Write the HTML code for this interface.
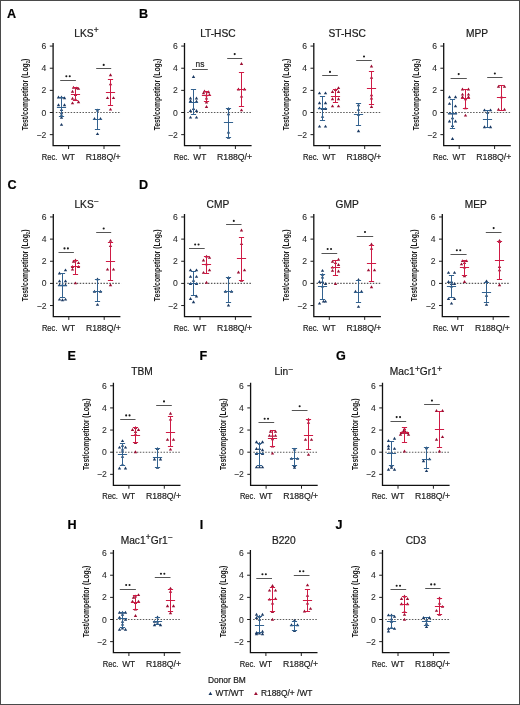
<!DOCTYPE html>
<html><head><meta charset="utf-8"><style>
html,body{margin:0;padding:0;background:#fff;}
body{width:520px;height:705px;overflow:hidden;}
svg{display:block;will-change:transform;}
#w{}
text{font-family:"Liberation Sans", sans-serif;fill:#1a1a1a;stroke:#1a1a1a;stroke-width:0.2px;}
.lt{font-size:12.6px;font-weight:bold;fill:#000;}
.ti{font-size:10.2px;}
.sup{font-size:8.4px;}
.yl{font-size:9.8px;font-weight:bold;stroke-width:0px;}
.sub{font-size:6px;}
.yt{font-size:8.6px;fill:#2a2a2a;stroke:#2a2a2a;stroke-width:0.08px;}
.xt{font-size:8.6px;fill:#222;stroke:#222;stroke-width:0.18px;}
.ns{font-size:8.4px;fill:#333;}
.lg{font-size:8.4px;fill:#222;}
.ax{fill:none;stroke:#111;stroke-width:1.3;}
.tk{fill:none;stroke:#1e1e1e;stroke-width:1;}
.zl{fill:none;stroke:#5a5a5a;stroke-width:1.1;stroke-dasharray:1.5 1.46;}
.eb{fill:none;stroke-width:1;}
.sb{fill:none;stroke:#555;stroke-width:1;}
</style></head><body>
<div id="w"><svg width="520" height="705" viewBox="0 0 520 705">
<g>
<rect x="0.5" y="0.5" width="519" height="704" fill="#fff" stroke="#4a4a4a" stroke-width="1"/>
<text x="7.1" y="17.8" class="lt">A</text>
<text x="86.5" y="36.5" class="ti" text-anchor="middle"><tspan>LKS</tspan><tspan class="sup" dx="0.3" dy="-3.3">+</tspan><tspan dy="3.3">​</tspan></text>
<text transform="translate(28.2 94.5) rotate(-90) scale(0.695 1)" class="yl" text-anchor="middle">Test/competitor (Log<tspan class="sub" dy="1.6">2</tspan><tspan dy="-1.6">)</tspan></text>
<path d="M53.1 43.08V145.71H120.2" class="ax"/>
<path d="M49.8 46.08H53.1M49.8 68.22H53.1M49.8 90.36H53.1M49.8 112.5H53.1M49.8 134.64H53.1M68.6 145.71V149.01M104 145.71V149.01" class="tk"/>
<text x="46.4" y="49.08" class="yt" text-anchor="end">6</text>
<text x="46.4" y="71.22" class="yt" text-anchor="end">4</text>
<text x="46.4" y="93.36" class="yt" text-anchor="end">2</text>
<text x="46.4" y="115.5" class="yt" text-anchor="end">0</text>
<text x="46.4" y="137.64" class="yt" text-anchor="end">−2</text>
<text x="41.7" y="159.71" class="xt" textLength="15.6" lengthAdjust="spacingAndGlyphs">Rec.</text>
<text x="61.9" y="159.71" class="xt" textLength="13" lengthAdjust="spacingAndGlyphs">WT</text>
<text x="85.7" y="159.71" class="xt" textLength="35" lengthAdjust="spacingAndGlyphs">R188Q/+</text>
<path d="M55.85 112.5H121" class="zl"/>
<path d="M58.5 95.59L60.2 98.49L56.8 98.49Z" fill="#1b3a63"/>
<path d="M61.5 95.59L63.2 98.49L59.8 98.49Z" fill="#1b3a63"/>
<path d="M64.5 96.37L66.2 99.27L62.8 99.27Z" fill="#1b3a63"/>
<path d="M58.5 103.34L60.2 106.24L56.8 106.24Z" fill="#1b3a63"/>
<path d="M64.5 103.34L66.2 106.24L62.8 106.24Z" fill="#1b3a63"/>
<path d="M61.5 107.99L63.2 110.89L59.8 110.89Z" fill="#1b3a63"/>
<path d="M61.5 111.31L63.2 114.21L59.8 114.21Z" fill="#1b3a63"/>
<path d="M61.5 113.53L63.2 116.43L59.8 116.43Z" fill="#1b3a63"/>
<path d="M61.5 115.74L63.2 118.64L59.8 118.64Z" fill="#1b3a63"/>
<path d="M61.5 122.94L63.2 125.84L59.8 125.84Z" fill="#1b3a63"/>
<path d="M61.5 97.5V116.5M58.9 97.5H64.1M58.9 116.5H64.1M56.9 107.5H66.1" stroke="#33628f" class="eb"/>
<path d="M73.5 85.74L75.2 88.64L71.8 88.64Z" fill="#9c0f33"/>
<path d="M76.5 86.41L78.2 89.31L74.8 89.31Z" fill="#9c0f33"/>
<path d="M78.5 86.96L80.2 89.86L76.8 89.86Z" fill="#9c0f33"/>
<path d="M72.5 89.73L74.2 92.63L70.8 92.63Z" fill="#9c0f33"/>
<path d="M75.5 93.05L77.2 95.95L73.8 95.95Z" fill="#9c0f33"/>
<path d="M72.5 96.81L74.2 99.71L70.8 99.71Z" fill="#9c0f33"/>
<path d="M75.5 97.48L77.2 100.38L73.8 100.38Z" fill="#9c0f33"/>
<path d="M78.5 100.24L80.2 103.14L76.8 103.14Z" fill="#9c0f33"/>
<path d="M72.5 101.46L74.2 104.36L70.8 104.36Z" fill="#9c0f33"/>
<path d="M75.5 87.5V100.5M72.9 87.5H78.1M72.9 100.5H78.1M70.9 94.5H80.1" stroke="#cf1b45" class="eb"/>
<path d="M97.5 108.55L99.2 111.45L95.8 111.45Z" fill="#1b3a63"/>
<path d="M94.5 117.07L96.2 119.97L92.8 119.97Z" fill="#1b3a63"/>
<path d="M100.5 117.07L102.2 119.97L98.8 119.97Z" fill="#1b3a63"/>
<path d="M97.5 132.13L99.2 135.03L95.8 135.03Z" fill="#1b3a63"/>
<path d="M97.5 109.5V129.5M94.9 109.5H100.1M94.9 129.5H100.1M92.9 119.5H102.1" stroke="#33628f" class="eb"/>
<path d="M110.5 73.23L112.2 76.13L108.8 76.13Z" fill="#9c0f33"/>
<path d="M110.5 82.42L112.2 85.32L108.8 85.32Z" fill="#9c0f33"/>
<path d="M107.5 96.15L109.2 99.05L105.8 99.05Z" fill="#9c0f33"/>
<path d="M113.5 96.15L115.2 99.05L111.8 99.05Z" fill="#9c0f33"/>
<path d="M110.5 107.66L112.2 110.56L108.8 110.56Z" fill="#9c0f33"/>
<path d="M110.5 79.5V105.5M107.9 79.5H113.1M107.9 105.5H113.1M105.9 92.5H115.1" stroke="#cf1b45" class="eb"/>
<path d="M60.2 80.5H75.9" class="sb"/>
<circle cx="66.35" cy="76.3" r="1.05" fill="#1a1a1a"/>
<circle cx="69.75" cy="76.3" r="1.05" fill="#1a1a1a"/>
<path d="M96.2 68.5H111.2" class="sb"/>
<circle cx="103.7" cy="64.9" r="1.05" fill="#1a1a1a"/>
<text x="138.9" y="17.8" class="lt">B</text>
<text x="217.9" y="36.5" class="ti" text-anchor="middle"><tspan>LT-HSC</tspan></text>
<text transform="translate(159.6 94.5) rotate(-90) scale(0.695 1)" class="yl" text-anchor="middle">Test/competitor (Log<tspan class="sub" dy="1.6">2</tspan><tspan dy="-1.6">)</tspan></text>
<path d="M184.5 43.08V145.71H251.6" class="ax"/>
<path d="M181.2 46.08H184.5M181.2 68.22H184.5M181.2 90.36H184.5M181.2 112.5H184.5M181.2 134.64H184.5M200 145.71V149.01M235.4 145.71V149.01" class="tk"/>
<text x="177.8" y="49.08" class="yt" text-anchor="end">6</text>
<text x="177.8" y="71.22" class="yt" text-anchor="end">4</text>
<text x="177.8" y="93.36" class="yt" text-anchor="end">2</text>
<text x="177.8" y="115.5" class="yt" text-anchor="end">0</text>
<text x="177.8" y="137.64" class="yt" text-anchor="end">−2</text>
<text x="173.8" y="159.71" class="xt" textLength="15.6" lengthAdjust="spacingAndGlyphs">Rec.</text>
<text x="193.3" y="159.71" class="xt" textLength="13" lengthAdjust="spacingAndGlyphs">WT</text>
<text x="217.1" y="159.71" class="xt" textLength="35" lengthAdjust="spacingAndGlyphs">R188Q/+</text>
<path d="M187.25 112.5H252.4" class="zl"/>
<path d="M193.5 75.11L195.2 78.01L191.8 78.01Z" fill="#1b3a63"/>
<path d="M190.5 96.59L192.2 99.49L188.8 99.49Z" fill="#1b3a63"/>
<path d="M196.5 96.59L198.2 99.49L194.8 99.49Z" fill="#1b3a63"/>
<path d="M190.5 99.25L192.2 102.15L188.8 102.15Z" fill="#1b3a63"/>
<path d="M196.5 99.69L198.2 102.59L194.8 102.59Z" fill="#1b3a63"/>
<path d="M193.5 107.11L195.2 110.01L191.8 110.01Z" fill="#1b3a63"/>
<path d="M190.5 109.1L192.2 112L188.8 112Z" fill="#1b3a63"/>
<path d="M196.5 109.1L198.2 112L194.8 112Z" fill="#1b3a63"/>
<path d="M190.5 115.63L192.2 118.53L188.8 118.53Z" fill="#1b3a63"/>
<path d="M196.5 115.63L198.2 118.53L194.8 118.53Z" fill="#1b3a63"/>
<path d="M193.5 89.5V114.5M190.9 89.5H196.1M190.9 114.5H196.1M188.9 102.5H198.1" stroke="#33628f" class="eb"/>
<path d="M204.5 89.51L206.2 92.41L202.8 92.41Z" fill="#9c0f33"/>
<path d="M208.5 90.28L210.2 93.18L206.8 93.18Z" fill="#9c0f33"/>
<path d="M203.5 91.39L205.2 94.29L201.8 94.29Z" fill="#9c0f33"/>
<path d="M209.5 93.05L211.2 95.95L207.8 95.95Z" fill="#9c0f33"/>
<path d="M206.5 93.38L208.2 96.28L204.8 96.28Z" fill="#9c0f33"/>
<path d="M206.5 96.59L208.2 99.49L204.8 99.49Z" fill="#9c0f33"/>
<path d="M206.5 100.58L208.2 103.48L204.8 103.48Z" fill="#9c0f33"/>
<path d="M206.5 105.11L208.2 108.01L204.8 108.01Z" fill="#9c0f33"/>
<path d="M206.5 91.5V101.5M203.9 91.5H209.1M203.9 101.5H209.1M201.9 95.5H211.1" stroke="#cf1b45" class="eb"/>
<path d="M228.5 107.11L230.2 110.01L226.8 110.01Z" fill="#1b3a63"/>
<path d="M228.5 112.31L230.2 115.21L226.8 115.21Z" fill="#1b3a63"/>
<path d="M228.5 130.58L230.2 133.48L226.8 133.48Z" fill="#1b3a63"/>
<path d="M228.5 135.89L230.2 138.79L226.8 138.79Z" fill="#1b3a63"/>
<path d="M228.5 108.5V137.5M225.9 108.5H231.1M225.9 137.5H231.1M223.9 122.5H233.1" stroke="#33628f" class="eb"/>
<path d="M241.5 62.05L243.2 64.95L239.8 64.95Z" fill="#9c0f33"/>
<path d="M238.5 87.51L240.2 90.41L236.8 90.41Z" fill="#9c0f33"/>
<path d="M244.5 87.51L246.2 90.41L242.8 90.41Z" fill="#9c0f33"/>
<path d="M241.5 94.71L243.2 97.61L239.8 97.61Z" fill="#9c0f33"/>
<path d="M241.5 108.44L243.2 111.34L239.8 111.34Z" fill="#9c0f33"/>
<path d="M241.5 72.5V106.5M238.9 72.5H244.1M238.9 106.5H244.1M236.9 89.5H246.1" stroke="#cf1b45" class="eb"/>
<path d="M192.1 69.5H207.8" class="sb"/>
<text x="199.95" y="67.2" class="ns" text-anchor="middle">ns</text>
<path d="M227.2 58.5H242.2" class="sb"/>
<circle cx="234.7" cy="54.1" r="1.05" fill="#1a1a1a"/>
<text x="347.2" y="36.5" class="ti" text-anchor="middle"><tspan>ST-HSC</tspan></text>
<text transform="translate(288.9 94.5) rotate(-90) scale(0.695 1)" class="yl" text-anchor="middle">Test/competitor (Log<tspan class="sub" dy="1.6">2</tspan><tspan dy="-1.6">)</tspan></text>
<path d="M313.8 43.08V145.71H380.9" class="ax"/>
<path d="M310.5 46.08H313.8M310.5 68.22H313.8M310.5 90.36H313.8M310.5 112.5H313.8M310.5 134.64H313.8M329.3 145.71V149.01M364.7 145.71V149.01" class="tk"/>
<text x="307.1" y="49.08" class="yt" text-anchor="end">6</text>
<text x="307.1" y="71.22" class="yt" text-anchor="end">4</text>
<text x="307.1" y="93.36" class="yt" text-anchor="end">2</text>
<text x="307.1" y="115.5" class="yt" text-anchor="end">0</text>
<text x="307.1" y="137.64" class="yt" text-anchor="end">−2</text>
<text x="303.1" y="159.71" class="xt" textLength="15.6" lengthAdjust="spacingAndGlyphs">Rec.</text>
<text x="322.6" y="159.71" class="xt" textLength="13" lengthAdjust="spacingAndGlyphs">WT</text>
<text x="346.4" y="159.71" class="xt" textLength="35" lengthAdjust="spacingAndGlyphs">R188Q/+</text>
<path d="M316.55 112.5H381.7" class="zl"/>
<path d="M319.5 91.39L321.2 94.29L317.8 94.29Z" fill="#1b3a63"/>
<path d="M325.5 91.39L327.2 94.29L323.8 94.29Z" fill="#1b3a63"/>
<path d="M319.5 101.24L321.2 104.14L317.8 104.14Z" fill="#1b3a63"/>
<path d="M325.5 101.24L327.2 104.14L323.8 104.14Z" fill="#1b3a63"/>
<path d="M319.5 106.44L321.2 109.34L317.8 109.34Z" fill="#1b3a63"/>
<path d="M325.5 107.11L327.2 110.01L323.8 110.01Z" fill="#1b3a63"/>
<path d="M322.5 107.11L324.2 110.01L320.8 110.01Z" fill="#1b3a63"/>
<path d="M322.5 114.97L324.2 117.87L320.8 117.87Z" fill="#1b3a63"/>
<path d="M319.5 124.71L321.2 127.61L317.8 127.61Z" fill="#1b3a63"/>
<path d="M325.5 124.71L327.2 127.61L323.8 127.61Z" fill="#1b3a63"/>
<path d="M322.5 96.5V120.5M319.9 96.5H325.1M319.9 120.5H325.1M317.9 108.5H327.1" stroke="#33628f" class="eb"/>
<path d="M338.5 86.18L340.2 89.08L336.8 89.08Z" fill="#9c0f33"/>
<path d="M335.5 88.18L337.2 91.08L333.8 91.08Z" fill="#9c0f33"/>
<path d="M332.5 90.06L334.2 92.96L330.8 92.96Z" fill="#9c0f33"/>
<path d="M338.5 90.06L340.2 92.96L336.8 92.96Z" fill="#9c0f33"/>
<path d="M332.5 97.25L334.2 100.15L330.8 100.15Z" fill="#9c0f33"/>
<path d="M338.5 97.25L340.2 100.15L336.8 100.15Z" fill="#9c0f33"/>
<path d="M332.5 104.45L334.2 107.35L330.8 107.35Z" fill="#9c0f33"/>
<path d="M338.5 104.45L340.2 107.35L336.8 107.35Z" fill="#9c0f33"/>
<path d="M335.5 89.5V102.5M332.9 89.5H338.1M332.9 102.5H338.1M330.9 96.5H340.1" stroke="#cf1b45" class="eb"/>
<path d="M358.5 103.23L360.2 106.13L356.8 106.13Z" fill="#1b3a63"/>
<path d="M358.5 107.77L360.2 110.67L356.8 110.67Z" fill="#1b3a63"/>
<path d="M358.5 112.97L360.2 115.87L356.8 115.87Z" fill="#1b3a63"/>
<path d="M358.5 129.36L360.2 132.26L356.8 132.26Z" fill="#1b3a63"/>
<path d="M358.5 103.5V125.5M355.9 103.5H361.1M355.9 125.5H361.1M353.9 114.5H363.1" stroke="#33628f" class="eb"/>
<path d="M371.5 64.6L373.2 67.5L369.8 67.5Z" fill="#9c0f33"/>
<path d="M371.5 75.78L373.2 78.68L369.8 78.68Z" fill="#9c0f33"/>
<path d="M371.5 93.38L373.2 96.28L369.8 96.28Z" fill="#9c0f33"/>
<path d="M371.5 96.59L373.2 99.49L369.8 99.49Z" fill="#9c0f33"/>
<path d="M371.5 105.11L373.2 108.01L369.8 108.01Z" fill="#9c0f33"/>
<path d="M371.5 71.5V104.5M368.9 71.5H374.1M368.9 104.5H374.1M366.9 88.5H376.1" stroke="#cf1b45" class="eb"/>
<path d="M322.2 75.5H337.8" class="sb"/>
<circle cx="330" cy="71.9" r="1.05" fill="#1a1a1a"/>
<path d="M356.2 60.5H371.8" class="sb"/>
<circle cx="364" cy="56.5" r="1.05" fill="#1a1a1a"/>
<text x="477.1" y="36.5" class="ti" text-anchor="middle"><tspan>MPP</tspan></text>
<text transform="translate(418.8 94.5) rotate(-90) scale(0.695 1)" class="yl" text-anchor="middle">Test/competitor (Log<tspan class="sub" dy="1.6">2</tspan><tspan dy="-1.6">)</tspan></text>
<path d="M443.7 43.08V145.71H510.8" class="ax"/>
<path d="M440.4 46.08H443.7M440.4 68.22H443.7M440.4 90.36H443.7M440.4 112.5H443.7M440.4 134.64H443.7M459.2 145.71V149.01M494.6 145.71V149.01" class="tk"/>
<text x="437" y="49.08" class="yt" text-anchor="end">6</text>
<text x="437" y="71.22" class="yt" text-anchor="end">4</text>
<text x="437" y="93.36" class="yt" text-anchor="end">2</text>
<text x="437" y="115.5" class="yt" text-anchor="end">0</text>
<text x="437" y="137.64" class="yt" text-anchor="end">−2</text>
<text x="433" y="159.71" class="xt" textLength="15.6" lengthAdjust="spacingAndGlyphs">Rec.</text>
<text x="452.5" y="159.71" class="xt" textLength="13" lengthAdjust="spacingAndGlyphs">WT</text>
<text x="476.3" y="159.71" class="xt" textLength="35" lengthAdjust="spacingAndGlyphs">R188Q/+</text>
<path d="M446.45 112.5H511.6" class="zl"/>
<path d="M449.5 95.37L451.2 98.27L447.8 98.27Z" fill="#1b3a63"/>
<path d="M455.5 95.37L457.2 98.27L453.8 98.27Z" fill="#1b3a63"/>
<path d="M449.5 101.9L451.2 104.8L447.8 104.8Z" fill="#1b3a63"/>
<path d="M455.5 104.45L457.2 107.35L453.8 107.35Z" fill="#1b3a63"/>
<path d="M449.5 111.65L451.2 114.55L447.8 114.55Z" fill="#1b3a63"/>
<path d="M452.5 111.65L454.2 114.55L450.8 114.55Z" fill="#1b3a63"/>
<path d="M455.5 111.65L457.2 114.55L453.8 114.55Z" fill="#1b3a63"/>
<path d="M452.5 116.3L454.2 119.19L450.8 119.19Z" fill="#1b3a63"/>
<path d="M449.5 119.51L451.2 122.41L447.8 122.41Z" fill="#1b3a63"/>
<path d="M455.5 119.51L457.2 122.41L453.8 122.41Z" fill="#1b3a63"/>
<path d="M452.5 124.04L454.2 126.94L450.8 126.94Z" fill="#1b3a63"/>
<path d="M452.5 137.11L454.2 140.01L450.8 140.01Z" fill="#1b3a63"/>
<path d="M452.5 99.5V128.5M449.9 99.5H455.1M449.9 128.5H455.1M447.9 113.5H457.1" stroke="#33628f" class="eb"/>
<path d="M462.5 87.51L464.2 90.41L460.8 90.41Z" fill="#9c0f33"/>
<path d="M468.5 87.51L470.2 90.41L466.8 90.41Z" fill="#9c0f33"/>
<path d="M462.5 92.72L464.2 95.62L460.8 95.62Z" fill="#9c0f33"/>
<path d="M468.5 92.72L470.2 95.62L466.8 95.62Z" fill="#9c0f33"/>
<path d="M462.5 95.37L464.2 98.27L460.8 98.27Z" fill="#9c0f33"/>
<path d="M468.5 95.37L470.2 98.27L466.8 98.27Z" fill="#9c0f33"/>
<path d="M465.5 97.25L467.2 100.15L463.8 100.15Z" fill="#9c0f33"/>
<path d="M465.5 106.44L467.2 109.34L463.8 109.34Z" fill="#9c0f33"/>
<path d="M465.5 113.64L467.2 116.54L463.8 116.54Z" fill="#9c0f33"/>
<path d="M465.5 89.5V108.5M462.9 89.5H468.1M462.9 108.5H468.1M460.9 98.5H470.1" stroke="#cf1b45" class="eb"/>
<path d="M484.5 108.44L486.2 111.34L482.8 111.34Z" fill="#1b3a63"/>
<path d="M490.5 108.44L492.2 111.34L488.8 111.34Z" fill="#1b3a63"/>
<path d="M487.5 110.76L489.2 113.66L485.8 113.66Z" fill="#1b3a63"/>
<path d="M484.5 125.37L486.2 128.27L482.8 128.27Z" fill="#1b3a63"/>
<path d="M490.5 125.37L492.2 128.27L488.8 128.27Z" fill="#1b3a63"/>
<path d="M487.5 110.5V127.5M484.9 110.5H490.1M484.9 127.5H490.1M482.9 119.5H492.1" stroke="#33628f" class="eb"/>
<path d="M498.5 84.86L500.2 87.76L496.8 87.76Z" fill="#9c0f33"/>
<path d="M504.5 84.86L506.2 87.76L502.8 87.76Z" fill="#9c0f33"/>
<path d="M501.5 95.37L503.2 98.27L499.8 98.27Z" fill="#9c0f33"/>
<path d="M498.5 107.77L500.2 110.67L496.8 110.67Z" fill="#9c0f33"/>
<path d="M504.5 107.77L506.2 110.67L502.8 110.67Z" fill="#9c0f33"/>
<path d="M501.5 85.5V110.5M498.9 85.5H504.1M498.9 110.5H504.1M496.9 97.5H506.1" stroke="#cf1b45" class="eb"/>
<path d="M450.6 78.5H466.8" class="sb"/>
<circle cx="458.7" cy="74.1" r="1.05" fill="#1a1a1a"/>
<path d="M487.2 77.5H502.5" class="sb"/>
<circle cx="494.85" cy="73.5" r="1.05" fill="#1a1a1a"/>
<text x="7.5" y="188.7" class="lt">C</text>
<text x="86.7" y="207.6" class="ti" text-anchor="middle"><tspan>LKS</tspan><tspan class="sup" dx="0.3" dy="-3.3">−</tspan><tspan dy="3.3">​</tspan></text>
<text transform="translate(28.4 265.4) rotate(-90) scale(0.695 1)" class="yl" text-anchor="middle">Test/competitor (Log<tspan class="sub" dy="1.6">2</tspan><tspan dy="-1.6">)</tspan></text>
<path d="M53.3 213.98V316.61H120.4" class="ax"/>
<path d="M50 216.98H53.3M50 239.12H53.3M50 261.26H53.3M50 283.4H53.3M50 305.54H53.3M68.8 316.61V319.91M104.2 316.61V319.91" class="tk"/>
<text x="46.6" y="219.98" class="yt" text-anchor="end">6</text>
<text x="46.6" y="242.12" class="yt" text-anchor="end">4</text>
<text x="46.6" y="264.26" class="yt" text-anchor="end">2</text>
<text x="46.6" y="286.4" class="yt" text-anchor="end">0</text>
<text x="46.6" y="308.54" class="yt" text-anchor="end">−2</text>
<text x="41.9" y="330.61" class="xt" textLength="15.6" lengthAdjust="spacingAndGlyphs">Rec.</text>
<text x="62.1" y="330.61" class="xt" textLength="13" lengthAdjust="spacingAndGlyphs">WT</text>
<text x="85.9" y="330.61" class="xt" textLength="35" lengthAdjust="spacingAndGlyphs">R188Q/+</text>
<path d="M56.05 283.4H121.2" class="zl"/>
<path d="M65.5 268.38L67.2 271.28L63.8 271.28Z" fill="#1b3a63"/>
<path d="M59.5 271.59L61.2 274.49L57.8 274.49Z" fill="#1b3a63"/>
<path d="M59.5 279.45L61.2 282.35L57.8 282.35Z" fill="#1b3a63"/>
<path d="M65.5 279.45L67.2 282.35L63.8 282.35Z" fill="#1b3a63"/>
<path d="M59.5 283.32L61.2 286.22L57.8 286.22Z" fill="#1b3a63"/>
<path d="M62.5 283.32L64.2 286.22L60.8 286.22Z" fill="#1b3a63"/>
<path d="M65.5 283.32L67.2 286.22L63.8 286.22Z" fill="#1b3a63"/>
<path d="M59.5 297.71L61.2 300.61L57.8 300.61Z" fill="#1b3a63"/>
<path d="M65.5 297.71L67.2 300.61L63.8 300.61Z" fill="#1b3a63"/>
<path d="M62.5 298.26L64.2 301.17L60.8 301.17Z" fill="#1b3a63"/>
<path d="M62.5 273.5V297.5M59.9 273.5H65.1M59.9 297.5H65.1M57.9 285.5H67.1" stroke="#33628f" class="eb"/>
<path d="M75.5 258.52L77.2 261.42L73.8 261.42Z" fill="#9c0f33"/>
<path d="M73.5 259.85L75.2 262.75L71.8 262.75Z" fill="#9c0f33"/>
<path d="M78.5 261.18L80.2 264.08L76.8 264.08Z" fill="#9c0f33"/>
<path d="M72.5 265.05L74.2 267.95L70.8 267.95Z" fill="#9c0f33"/>
<path d="M78.5 265.05L80.2 267.95L76.8 267.95Z" fill="#9c0f33"/>
<path d="M72.5 267.71L74.2 270.61L70.8 270.61Z" fill="#9c0f33"/>
<path d="M75.5 281.44L77.2 284.34L73.8 284.34Z" fill="#9c0f33"/>
<path d="M75.5 260.5V274.5M72.9 260.5H78.1M72.9 274.5H78.1M70.9 266.5H80.1" stroke="#cf1b45" class="eb"/>
<path d="M97.5 277.45L99.2 280.35L95.8 280.35Z" fill="#1b3a63"/>
<path d="M94.5 289.85L96.2 292.75L92.8 292.75Z" fill="#1b3a63"/>
<path d="M100.5 289.85L102.2 292.75L98.8 292.75Z" fill="#1b3a63"/>
<path d="M97.5 302.91L99.2 305.81L95.8 305.81Z" fill="#1b3a63"/>
<path d="M97.5 279.5V301.5M94.9 279.5H100.1M94.9 301.5H100.1M92.9 291.5H102.1" stroke="#33628f" class="eb"/>
<path d="M110.5 238.93L112.2 241.83L108.8 241.83Z" fill="#9c0f33"/>
<path d="M110.5 244.13L112.2 247.03L108.8 247.03Z" fill="#9c0f33"/>
<path d="M107.5 267.71L109.2 270.61L105.8 270.61Z" fill="#9c0f33"/>
<path d="M113.5 267.71L115.2 270.61L111.8 270.61Z" fill="#9c0f33"/>
<path d="M110.5 283.32L112.2 286.22L108.8 286.22Z" fill="#9c0f33"/>
<path d="M110.5 242.5V280.5M107.9 242.5H113.1M107.9 280.5H113.1M105.9 261.5H115.1" stroke="#cf1b45" class="eb"/>
<path d="M58.5 252.5H73.9" class="sb"/>
<circle cx="64.5" cy="248.4" r="1.05" fill="#1a1a1a"/>
<circle cx="67.9" cy="248.4" r="1.05" fill="#1a1a1a"/>
<path d="M96.2 232.5H111.2" class="sb"/>
<circle cx="103.7" cy="228.5" r="1.05" fill="#1a1a1a"/>
<text x="139" y="188.7" class="lt">D</text>
<text x="217.9" y="207.6" class="ti" text-anchor="middle"><tspan>CMP</tspan></text>
<text transform="translate(159.6 265.4) rotate(-90) scale(0.695 1)" class="yl" text-anchor="middle">Test/competitor (Log<tspan class="sub" dy="1.6">2</tspan><tspan dy="-1.6">)</tspan></text>
<path d="M184.5 213.98V316.61H251.6" class="ax"/>
<path d="M181.2 216.98H184.5M181.2 239.12H184.5M181.2 261.26H184.5M181.2 283.4H184.5M181.2 305.54H184.5M200 316.61V319.91M235.4 316.61V319.91" class="tk"/>
<text x="177.8" y="219.98" class="yt" text-anchor="end">6</text>
<text x="177.8" y="242.12" class="yt" text-anchor="end">4</text>
<text x="177.8" y="264.26" class="yt" text-anchor="end">2</text>
<text x="177.8" y="286.4" class="yt" text-anchor="end">0</text>
<text x="177.8" y="308.54" class="yt" text-anchor="end">−2</text>
<text x="173.8" y="330.61" class="xt" textLength="15.6" lengthAdjust="spacingAndGlyphs">Rec.</text>
<text x="193.3" y="330.61" class="xt" textLength="13" lengthAdjust="spacingAndGlyphs">WT</text>
<text x="217.1" y="330.61" class="xt" textLength="35" lengthAdjust="spacingAndGlyphs">R188Q/+</text>
<path d="M187.25 283.4H252.4" class="zl"/>
<path d="M190.5 268.38L192.2 271.28L188.8 271.28Z" fill="#1b3a63"/>
<path d="M196.5 268.38L198.2 271.28L194.8 271.28Z" fill="#1b3a63"/>
<path d="M190.5 274.91L192.2 277.81L188.8 277.81Z" fill="#1b3a63"/>
<path d="M196.5 274.91L198.2 277.81L194.8 277.81Z" fill="#1b3a63"/>
<path d="M193.5 278.78L195.2 281.68L191.8 281.68Z" fill="#1b3a63"/>
<path d="M190.5 282.1L192.2 285L188.8 285Z" fill="#1b3a63"/>
<path d="M196.5 282.1L198.2 285L194.8 285Z" fill="#1b3a63"/>
<path d="M196.5 294.5L198.2 297.4L194.8 297.4Z" fill="#1b3a63"/>
<path d="M190.5 297.05L192.2 299.95L188.8 299.95Z" fill="#1b3a63"/>
<path d="M193.5 300.37L195.2 303.27L191.8 303.27Z" fill="#1b3a63"/>
<path d="M193.5 271.5V295.5M190.9 271.5H196.1M190.9 295.5H196.1M188.9 283.5H198.1" stroke="#33628f" class="eb"/>
<path d="M206.5 254.65L208.2 257.55L204.8 257.55Z" fill="#9c0f33"/>
<path d="M209.5 255.87L211.2 258.77L207.8 258.77Z" fill="#9c0f33"/>
<path d="M203.5 258.52L205.2 261.42L201.8 261.42Z" fill="#9c0f33"/>
<path d="M206.5 262.4L208.2 265.3L204.8 265.3Z" fill="#9c0f33"/>
<path d="M209.5 268.38L211.2 271.28L207.8 271.28Z" fill="#9c0f33"/>
<path d="M203.5 270.92L205.2 273.82L201.8 273.82Z" fill="#9c0f33"/>
<path d="M206.5 280.77L208.2 283.67L204.8 283.67Z" fill="#9c0f33"/>
<path d="M206.5 256.5V273.5M203.9 256.5H209.1M203.9 273.5H209.1M201.9 264.5H211.1" stroke="#cf1b45" class="eb"/>
<path d="M228.5 276.12L230.2 279.02L226.8 279.02Z" fill="#1b3a63"/>
<path d="M225.5 289.85L227.2 292.75L223.8 292.75Z" fill="#1b3a63"/>
<path d="M231.5 289.85L233.2 292.75L229.8 292.75Z" fill="#1b3a63"/>
<path d="M228.5 303.58L230.2 306.48L226.8 306.48Z" fill="#1b3a63"/>
<path d="M228.5 277.5V302.5M225.9 277.5H231.1M225.9 302.5H231.1M223.9 291.5H233.1" stroke="#33628f" class="eb"/>
<path d="M241.5 228.52L243.2 231.42L239.8 231.42Z" fill="#9c0f33"/>
<path d="M241.5 242.14L243.2 245.04L239.8 245.04Z" fill="#9c0f33"/>
<path d="M244.5 268.38L246.2 271.28L242.8 271.28Z" fill="#9c0f33"/>
<path d="M238.5 270.59L240.2 273.49L236.8 273.49Z" fill="#9c0f33"/>
<path d="M241.5 278.78L243.2 281.68L239.8 281.68Z" fill="#9c0f33"/>
<path d="M241.5 237.5V280.5M238.9 237.5H244.1M238.9 280.5H244.1M236.9 258.5H246.1" stroke="#cf1b45" class="eb"/>
<path d="M189 248.5H204.7" class="sb"/>
<circle cx="195.15" cy="244.5" r="1.05" fill="#1a1a1a"/>
<circle cx="198.55" cy="244.5" r="1.05" fill="#1a1a1a"/>
<path d="M226.1 224.5H241.5" class="sb"/>
<circle cx="233.8" cy="220.9" r="1.05" fill="#1a1a1a"/>
<text x="347.2" y="207.6" class="ti" text-anchor="middle"><tspan>GMP</tspan></text>
<text transform="translate(288.9 265.4) rotate(-90) scale(0.695 1)" class="yl" text-anchor="middle">Test/competitor (Log<tspan class="sub" dy="1.6">2</tspan><tspan dy="-1.6">)</tspan></text>
<path d="M313.8 213.98V316.61H380.9" class="ax"/>
<path d="M310.5 216.98H313.8M310.5 239.12H313.8M310.5 261.26H313.8M310.5 283.4H313.8M310.5 305.54H313.8M329.3 316.61V319.91M364.7 316.61V319.91" class="tk"/>
<text x="307.1" y="219.98" class="yt" text-anchor="end">6</text>
<text x="307.1" y="242.12" class="yt" text-anchor="end">4</text>
<text x="307.1" y="264.26" class="yt" text-anchor="end">2</text>
<text x="307.1" y="286.4" class="yt" text-anchor="end">0</text>
<text x="307.1" y="308.54" class="yt" text-anchor="end">−2</text>
<text x="303.1" y="330.61" class="xt" textLength="15.6" lengthAdjust="spacingAndGlyphs">Rec.</text>
<text x="322.6" y="330.61" class="xt" textLength="13" lengthAdjust="spacingAndGlyphs">WT</text>
<text x="346.4" y="330.61" class="xt" textLength="35" lengthAdjust="spacingAndGlyphs">R188Q/+</text>
<path d="M316.55 283.4H381.7" class="zl"/>
<path d="M322.5 268.93L324.2 271.83L320.8 271.83Z" fill="#1b3a63"/>
<path d="M322.5 272.91L324.2 275.81L320.8 275.81Z" fill="#1b3a63"/>
<path d="M322.5 275.57L324.2 278.47L320.8 278.47Z" fill="#1b3a63"/>
<path d="M319.5 280.11L321.2 283.01L317.8 283.01Z" fill="#1b3a63"/>
<path d="M322.5 280.11L324.2 283.01L320.8 283.01Z" fill="#1b3a63"/>
<path d="M325.5 282.1L327.2 285L323.8 285Z" fill="#1b3a63"/>
<path d="M322.5 284.65L324.2 287.55L320.8 287.55Z" fill="#1b3a63"/>
<path d="M323.5 299.7L325.2 302.6L321.8 302.6Z" fill="#1b3a63"/>
<path d="M325.5 299.7L327.2 302.6L323.8 302.6Z" fill="#1b3a63"/>
<path d="M319.5 301.7L321.2 304.6L317.8 304.6Z" fill="#1b3a63"/>
<path d="M322.5 274.5V299.5M319.9 274.5H325.1M319.9 299.5H325.1M317.9 286.5H327.1" stroke="#33628f" class="eb"/>
<path d="M338.5 257.86L340.2 260.76L336.8 260.76Z" fill="#9c0f33"/>
<path d="M332.5 259.85L334.2 262.75L330.8 262.75Z" fill="#9c0f33"/>
<path d="M335.5 261.18L337.2 264.08L333.8 264.08Z" fill="#9c0f33"/>
<path d="M338.5 263.06L340.2 265.96L336.8 265.96Z" fill="#9c0f33"/>
<path d="M332.5 265.72L334.2 268.62L330.8 268.62Z" fill="#9c0f33"/>
<path d="M332.5 268.93L334.2 271.83L330.8 271.83Z" fill="#9c0f33"/>
<path d="M338.5 269.48L340.2 272.38L336.8 272.38Z" fill="#9c0f33"/>
<path d="M335.5 282.1L337.2 285L333.8 285Z" fill="#9c0f33"/>
<path d="M335.5 260.5V275.5M332.9 260.5H338.1M332.9 275.5H338.1M330.9 267.5H340.1" stroke="#cf1b45" class="eb"/>
<path d="M358.5 278.12L360.2 281.02L356.8 281.02Z" fill="#1b3a63"/>
<path d="M355.5 289.85L357.2 292.75L353.8 292.75Z" fill="#1b3a63"/>
<path d="M361.5 289.85L363.2 292.75L359.8 292.75Z" fill="#1b3a63"/>
<path d="M358.5 304.91L360.2 307.81L356.8 307.81Z" fill="#1b3a63"/>
<path d="M358.5 280.5V302.5M355.9 280.5H361.1M355.9 302.5H361.1M353.9 292.5H363.1" stroke="#33628f" class="eb"/>
<path d="M371.5 242.58L373.2 245.48L369.8 245.48Z" fill="#9c0f33"/>
<path d="M371.5 246.79L373.2 249.69L369.8 249.69Z" fill="#9c0f33"/>
<path d="M368.5 268.38L370.2 271.28L366.8 271.28Z" fill="#9c0f33"/>
<path d="M374.5 268.38L376.2 271.28L372.8 271.28Z" fill="#9c0f33"/>
<path d="M371.5 285.31L373.2 288.21L369.8 288.21Z" fill="#9c0f33"/>
<path d="M371.5 245.5V281.5M368.9 245.5H374.1M368.9 281.5H374.1M366.9 263.5H376.1" stroke="#cf1b45" class="eb"/>
<path d="M321.5 253.5H337.2" class="sb"/>
<circle cx="327.65" cy="249" r="1.05" fill="#1a1a1a"/>
<circle cx="331.05" cy="249" r="1.05" fill="#1a1a1a"/>
<path d="M356.8 236.5H373.2" class="sb"/>
<circle cx="365" cy="232" r="1.05" fill="#1a1a1a"/>
<text x="475.7" y="207.6" class="ti" text-anchor="middle"><tspan>MEP</tspan></text>
<text transform="translate(417.4 265.4) rotate(-90) scale(0.695 1)" class="yl" text-anchor="middle">Test/competitor (Log<tspan class="sub" dy="1.6">2</tspan><tspan dy="-1.6">)</tspan></text>
<path d="M442.3 213.98V316.61H509.4" class="ax"/>
<path d="M439 216.98H442.3M439 239.12H442.3M439 261.26H442.3M439 283.4H442.3M439 305.54H442.3M457.8 316.61V319.91M493.2 316.61V319.91" class="tk"/>
<text x="435.6" y="219.98" class="yt" text-anchor="end">6</text>
<text x="435.6" y="242.12" class="yt" text-anchor="end">4</text>
<text x="435.6" y="264.26" class="yt" text-anchor="end">2</text>
<text x="435.6" y="286.4" class="yt" text-anchor="end">0</text>
<text x="435.6" y="308.54" class="yt" text-anchor="end">−2</text>
<text x="433.1" y="330.61" class="xt" textLength="15.6" lengthAdjust="spacingAndGlyphs">Rec.</text>
<text x="451.1" y="330.61" class="xt" textLength="13" lengthAdjust="spacingAndGlyphs">WT</text>
<text x="474.9" y="330.61" class="xt" textLength="35" lengthAdjust="spacingAndGlyphs">R188Q/+</text>
<path d="M445.05 283.4H510.2" class="zl"/>
<path d="M448.5 270.92L450.2 273.82L446.8 273.82Z" fill="#1b3a63"/>
<path d="M454.5 270.92L456.2 273.82L452.8 273.82Z" fill="#1b3a63"/>
<path d="M448.5 280.11L450.2 283.01L446.8 283.01Z" fill="#1b3a63"/>
<path d="M451.5 280.11L453.2 283.01L449.8 283.01Z" fill="#1b3a63"/>
<path d="M451.5 282.1L453.2 285L449.8 285Z" fill="#1b3a63"/>
<path d="M454.5 282.1L456.2 285L452.8 285Z" fill="#1b3a63"/>
<path d="M451.5 284.65L453.2 287.55L449.8 287.55Z" fill="#1b3a63"/>
<path d="M448.5 297.05L450.2 299.95L446.8 299.95Z" fill="#1b3a63"/>
<path d="M454.5 297.05L456.2 299.95L452.8 299.95Z" fill="#1b3a63"/>
<path d="M451.5 301.7L453.2 304.6L449.8 304.6Z" fill="#1b3a63"/>
<path d="M451.5 275.5V297.5M448.9 275.5H454.1M448.9 297.5H454.1M446.9 286.5H456.1" stroke="#33628f" class="eb"/>
<path d="M462.5 259.19L464.2 262.09L460.8 262.09Z" fill="#9c0f33"/>
<path d="M466.5 259.19L468.2 262.09L464.8 262.09Z" fill="#9c0f33"/>
<path d="M464.5 261.18L466.2 264.08L462.8 264.08Z" fill="#9c0f33"/>
<path d="M461.5 262.4L463.2 265.3L459.8 265.3Z" fill="#9c0f33"/>
<path d="M464.5 265.72L466.2 268.62L462.8 268.62Z" fill="#9c0f33"/>
<path d="M464.5 274.24L466.2 277.14L462.8 277.14Z" fill="#9c0f33"/>
<path d="M464.5 280.11L466.2 283.01L462.8 283.01Z" fill="#9c0f33"/>
<path d="M464.5 260.5V275.5M461.9 260.5H467.1M461.9 275.5H467.1M459.9 267.5H469.1" stroke="#cf1b45" class="eb"/>
<path d="M486.5 279.45L488.2 282.35L484.8 282.35Z" fill="#1b3a63"/>
<path d="M486.5 293.84L488.2 296.74L484.8 296.74Z" fill="#1b3a63"/>
<path d="M486.5 302.91L488.2 305.81L484.8 305.81Z" fill="#1b3a63"/>
<path d="M486.5 282.5V302.5M483.9 282.5H489.1M483.9 302.5H489.1M481.9 292.5H491.1" stroke="#33628f" class="eb"/>
<path d="M499.5 238.93L501.2 241.83L497.8 241.83Z" fill="#9c0f33"/>
<path d="M499.5 240.15L501.2 243.05L497.8 243.05Z" fill="#9c0f33"/>
<path d="M499.5 265.05L501.2 267.95L497.8 267.95Z" fill="#9c0f33"/>
<path d="M499.5 268.38L501.2 271.28L497.8 271.28Z" fill="#9c0f33"/>
<path d="M499.5 283.32L501.2 286.22L497.8 286.22Z" fill="#9c0f33"/>
<path d="M499.5 241.5V279.5M496.9 241.5H502.1M496.9 279.5H502.1M494.9 260.5H504.1" stroke="#cf1b45" class="eb"/>
<path d="M450.5 254.5H466.6" class="sb"/>
<circle cx="456.85" cy="250.3" r="1.05" fill="#1a1a1a"/>
<circle cx="460.25" cy="250.3" r="1.05" fill="#1a1a1a"/>
<path d="M485.8 232.5H501.5" class="sb"/>
<circle cx="493.65" cy="228.1" r="1.05" fill="#1a1a1a"/>
<text x="67.5" y="360" class="lt">E</text>
<text x="142.1" y="375.2" class="ti" text-anchor="middle"><tspan>TBM</tspan></text>
<text transform="translate(88.5 434.2) rotate(-90) scale(0.695 1)" class="yl" text-anchor="middle">Test/competitor (Log<tspan class="sub" dy="1.6">2</tspan><tspan dy="-1.6">)</tspan></text>
<path d="M113.4 382.78V485.41H180.5" class="ax"/>
<path d="M110.1 385.78H113.4M110.1 407.92H113.4M110.1 430.06H113.4M110.1 452.2H113.4M110.1 474.34H113.4M128.9 485.41V488.71M164.3 485.41V488.71" class="tk"/>
<text x="106.7" y="388.78" class="yt" text-anchor="end">6</text>
<text x="106.7" y="410.92" class="yt" text-anchor="end">4</text>
<text x="106.7" y="433.06" class="yt" text-anchor="end">2</text>
<text x="106.7" y="455.2" class="yt" text-anchor="end">0</text>
<text x="106.7" y="477.34" class="yt" text-anchor="end">−2</text>
<text x="102.3" y="499.41" class="xt" textLength="15.6" lengthAdjust="spacingAndGlyphs">Rec.</text>
<text x="122.2" y="499.41" class="xt" textLength="13" lengthAdjust="spacingAndGlyphs">WT</text>
<text x="146" y="499.41" class="xt" textLength="35" lengthAdjust="spacingAndGlyphs">R188Q/+</text>
<path d="M116.15 452.2H181.3" class="zl"/>
<path d="M122.5 439.17L124.2 442.07L120.8 442.07Z" fill="#1b3a63"/>
<path d="M122.5 443.82L124.2 446.72L120.8 446.72Z" fill="#1b3a63"/>
<path d="M119.5 445.7L121.2 448.6L117.8 448.6Z" fill="#1b3a63"/>
<path d="M125.5 445.7L127.2 448.6L123.8 448.6Z" fill="#1b3a63"/>
<path d="M122.5 447.69L124.2 450.59L120.8 450.59Z" fill="#1b3a63"/>
<path d="M122.5 449.69L124.2 452.59L120.8 452.59Z" fill="#1b3a63"/>
<path d="M122.5 454.89L124.2 457.79L120.8 457.79Z" fill="#1b3a63"/>
<path d="M122.5 462.75L124.2 465.65L120.8 465.65Z" fill="#1b3a63"/>
<path d="M119.5 466.62L121.2 469.52L117.8 469.52Z" fill="#1b3a63"/>
<path d="M125.5 466.62L127.2 469.52L123.8 469.52Z" fill="#1b3a63"/>
<path d="M122.5 443.5V465.5M119.9 443.5H125.1M119.9 465.5H125.1M117.9 454.5H127.1" stroke="#33628f" class="eb"/>
<path d="M135.5 426.11L137.2 429.01L133.8 429.01Z" fill="#9c0f33"/>
<path d="M132.5 428.1L134.2 431L130.8 431Z" fill="#9c0f33"/>
<path d="M138.5 428.1L140.2 431L136.8 431Z" fill="#9c0f33"/>
<path d="M135.5 430.09L137.2 432.99L133.8 432.99Z" fill="#9c0f33"/>
<path d="M135.5 432.64L137.2 435.54L133.8 435.54Z" fill="#9c0f33"/>
<path d="M135.5 441.16L137.2 444.06L133.8 444.06Z" fill="#9c0f33"/>
<path d="M135.5 450.35L137.2 453.25L133.8 453.25Z" fill="#9c0f33"/>
<path d="M135.5 427.5V442.5M132.9 427.5H138.1M132.9 442.5H138.1M130.9 435.5H140.1" stroke="#cf1b45" class="eb"/>
<path d="M157.5 447.03L159.2 449.93L155.8 449.93Z" fill="#1b3a63"/>
<path d="M154.5 457.54L156.2 460.44L152.8 460.44Z" fill="#1b3a63"/>
<path d="M160.5 457.54L162.2 460.44L158.8 460.44Z" fill="#1b3a63"/>
<path d="M157.5 465.96L159.2 468.86L155.8 468.86Z" fill="#1b3a63"/>
<path d="M157.5 448.5V467.5M154.9 448.5H160.1M154.9 467.5H160.1M152.9 457.5H162.1" stroke="#33628f" class="eb"/>
<path d="M170.5 411.83L172.2 414.73L168.8 414.73Z" fill="#9c0f33"/>
<path d="M170.5 417.69L172.2 420.59L168.8 420.59Z" fill="#9c0f33"/>
<path d="M167.5 437.95L169.2 440.85L165.8 440.85Z" fill="#9c0f33"/>
<path d="M173.5 437.95L175.2 440.85L171.8 440.85Z" fill="#9c0f33"/>
<path d="M170.5 447.69L172.2 450.59L168.8 450.59Z" fill="#9c0f33"/>
<path d="M170.5 416.5V446.5M167.9 416.5H173.1M167.9 446.5H173.1M165.9 432.5H175.1" stroke="#cf1b45" class="eb"/>
<path d="M120.2 419.5H135.5" class="sb"/>
<circle cx="126.15" cy="415.4" r="1.05" fill="#1a1a1a"/>
<circle cx="129.55" cy="415.4" r="1.05" fill="#1a1a1a"/>
<path d="M156.2 405.5H171.8" class="sb"/>
<circle cx="164" cy="401.4" r="1.05" fill="#1a1a1a"/>
<text x="199.6" y="360" class="lt">F</text>
<text x="284" y="375.2" class="ti" text-anchor="middle"><tspan>Lin</tspan><tspan class="sup" dx="0.3" dy="-3.3">−</tspan><tspan dy="3.3">​</tspan></text>
<text transform="translate(225.7 434.2) rotate(-90) scale(0.695 1)" class="yl" text-anchor="middle">Test/competitor (Log<tspan class="sub" dy="1.6">2</tspan><tspan dy="-1.6">)</tspan></text>
<path d="M250.6 382.78V485.41H317.7" class="ax"/>
<path d="M247.3 385.78H250.6M247.3 407.92H250.6M247.3 430.06H250.6M247.3 452.2H250.6M247.3 474.34H250.6M266.1 485.41V488.71M301.5 485.41V488.71" class="tk"/>
<text x="243.9" y="388.78" class="yt" text-anchor="end">6</text>
<text x="243.9" y="410.92" class="yt" text-anchor="end">4</text>
<text x="243.9" y="433.06" class="yt" text-anchor="end">2</text>
<text x="243.9" y="455.2" class="yt" text-anchor="end">0</text>
<text x="243.9" y="477.34" class="yt" text-anchor="end">−2</text>
<text x="239.9" y="499.41" class="xt" textLength="15.6" lengthAdjust="spacingAndGlyphs">Rec.</text>
<text x="259.4" y="499.41" class="xt" textLength="13" lengthAdjust="spacingAndGlyphs">WT</text>
<text x="283.2" y="499.41" class="xt" textLength="35" lengthAdjust="spacingAndGlyphs">R188Q/+</text>
<path d="M253.35 452.2H318.5" class="zl"/>
<path d="M256.5 440.28L258.2 443.18L254.8 443.18Z" fill="#1b3a63"/>
<path d="M262.5 440.28L264.2 443.18L260.8 443.18Z" fill="#1b3a63"/>
<path d="M259.5 441.83L261.2 444.73L257.8 444.73Z" fill="#1b3a63"/>
<path d="M256.5 447.03L258.2 449.93L254.8 449.93Z" fill="#1b3a63"/>
<path d="M259.5 447.03L261.2 449.93L257.8 449.93Z" fill="#1b3a63"/>
<path d="M262.5 448.36L264.2 451.26L260.8 451.26Z" fill="#1b3a63"/>
<path d="M256.5 452.01L258.2 454.91L254.8 454.91Z" fill="#1b3a63"/>
<path d="M262.5 452.01L264.2 454.91L260.8 454.91Z" fill="#1b3a63"/>
<path d="M256.5 465.4L258.2 468.3L254.8 468.3Z" fill="#1b3a63"/>
<path d="M259.5 465.4L261.2 468.3L257.8 468.3Z" fill="#1b3a63"/>
<path d="M262.5 465.4L264.2 468.3L260.8 468.3Z" fill="#1b3a63"/>
<path d="M259.5 443.5V465.5M256.9 443.5H262.1M256.9 465.5H262.1M254.9 453.5H264.1" stroke="#33628f" class="eb"/>
<path d="M270.5 429.76L272.2 432.66L268.8 432.66Z" fill="#9c0f33"/>
<path d="M275.5 429.76L277.2 432.66L273.8 432.66Z" fill="#9c0f33"/>
<path d="M269.5 433.97L271.2 436.87L267.8 436.87Z" fill="#9c0f33"/>
<path d="M272.5 433.97L274.2 436.87L270.8 436.87Z" fill="#9c0f33"/>
<path d="M275.5 433.97L277.2 436.87L273.8 436.87Z" fill="#9c0f33"/>
<path d="M272.5 437.29L274.2 440.19L270.8 440.19Z" fill="#9c0f33"/>
<path d="M272.5 444.7L274.2 447.6L270.8 447.6Z" fill="#9c0f33"/>
<path d="M272.5 451.68L274.2 454.58L270.8 454.58Z" fill="#9c0f33"/>
<path d="M272.5 430.5V446.5M269.9 430.5H275.1M269.9 446.5H275.1M267.9 438.5H277.1" stroke="#cf1b45" class="eb"/>
<path d="M294.5 447.69L296.2 450.59L292.8 450.59Z" fill="#1b3a63"/>
<path d="M291.5 456.88L293.2 459.78L289.8 459.78Z" fill="#1b3a63"/>
<path d="M297.5 456.88L299.2 459.78L295.8 459.78Z" fill="#1b3a63"/>
<path d="M294.5 464.08L296.2 466.98L292.8 466.98Z" fill="#1b3a63"/>
<path d="M294.5 465.96L296.2 468.86L292.8 468.86Z" fill="#1b3a63"/>
<path d="M294.5 448.5V465.5M291.9 448.5H297.1M291.9 465.5H297.1M289.9 458.5H299.1" stroke="#33628f" class="eb"/>
<path d="M308.5 417.69L310.2 420.59L306.8 420.59Z" fill="#9c0f33"/>
<path d="M308.5 420.9L310.2 423.8L306.8 423.8Z" fill="#9c0f33"/>
<path d="M305.5 437.95L307.2 440.85L303.8 440.85Z" fill="#9c0f33"/>
<path d="M311.5 437.95L313.2 440.85L309.8 440.85Z" fill="#9c0f33"/>
<path d="M308.5 452.9L310.2 455.8L306.8 455.8Z" fill="#9c0f33"/>
<path d="M308.5 419.5V449.5M305.9 419.5H311.1M305.9 449.5H311.1M303.9 435.5H313.1" stroke="#cf1b45" class="eb"/>
<path d="M258.5 422.5H274.2" class="sb"/>
<circle cx="264.65" cy="418.7" r="1.05" fill="#1a1a1a"/>
<circle cx="268.05" cy="418.7" r="1.05" fill="#1a1a1a"/>
<path d="M291.8 410.5H307.5" class="sb"/>
<circle cx="299.65" cy="406.3" r="1.05" fill="#1a1a1a"/>
<text x="336" y="360" class="lt">G</text>
<text x="415.9" y="375.2" class="ti" text-anchor="middle"><tspan>Mac1</tspan><tspan class="sup" dx="0.3" dy="-3.3">+</tspan><tspan dy="3.3">​</tspan><tspan>Gr1</tspan><tspan class="sup" dx="0.3" dy="-3.3">+</tspan><tspan dy="3.3">​</tspan></text>
<text transform="translate(357.6 434.2) rotate(-90) scale(0.695 1)" class="yl" text-anchor="middle">Test/competitor (Log<tspan class="sub" dy="1.6">2</tspan><tspan dy="-1.6">)</tspan></text>
<path d="M382.5 382.78V485.41H449.6" class="ax"/>
<path d="M379.2 385.78H382.5M379.2 407.92H382.5M379.2 430.06H382.5M379.2 452.2H382.5M379.2 474.34H382.5M398 485.41V488.71M433.4 485.41V488.71" class="tk"/>
<text x="375.8" y="388.78" class="yt" text-anchor="end">6</text>
<text x="375.8" y="410.92" class="yt" text-anchor="end">4</text>
<text x="375.8" y="433.06" class="yt" text-anchor="end">2</text>
<text x="375.8" y="455.2" class="yt" text-anchor="end">0</text>
<text x="375.8" y="477.34" class="yt" text-anchor="end">−2</text>
<text x="371.8" y="499.41" class="xt" textLength="15.6" lengthAdjust="spacingAndGlyphs">Rec.</text>
<text x="391.3" y="499.41" class="xt" textLength="13" lengthAdjust="spacingAndGlyphs">WT</text>
<text x="415.1" y="499.41" class="xt" textLength="35" lengthAdjust="spacingAndGlyphs">R188Q/+</text>
<path d="M385.25 452.2H450.4" class="zl"/>
<path d="M394.5 436.73L396.2 439.63L392.8 439.63Z" fill="#1b3a63"/>
<path d="M388.5 439.06L390.2 441.96L386.8 441.96Z" fill="#1b3a63"/>
<path d="M388.5 444.37L390.2 447.27L386.8 447.27Z" fill="#1b3a63"/>
<path d="M388.5 446.92L390.2 449.82L386.8 449.82Z" fill="#1b3a63"/>
<path d="M394.5 446.92L396.2 449.82L392.8 449.82Z" fill="#1b3a63"/>
<path d="M391.5 450.9L393.2 453.8L389.8 453.8Z" fill="#1b3a63"/>
<path d="M391.5 463.97L393.2 466.87L389.8 466.87Z" fill="#1b3a63"/>
<path d="M391.5 465.85L393.2 468.75L389.8 468.75Z" fill="#1b3a63"/>
<path d="M388.5 467.84L390.2 470.74L386.8 470.74Z" fill="#1b3a63"/>
<path d="M394.5 467.84L396.2 470.74L392.8 470.74Z" fill="#1b3a63"/>
<path d="M391.5 441.5V465.5M388.9 441.5H394.1M388.9 465.5H394.1M386.9 453.5H396.1" stroke="#33628f" class="eb"/>
<path d="M404.5 427.21L406.2 430.11L402.8 430.11Z" fill="#9c0f33"/>
<path d="M403.5 429.32L405.2 432.22L401.8 432.22Z" fill="#9c0f33"/>
<path d="M405.5 429.98L407.2 432.88L403.8 432.88Z" fill="#9c0f33"/>
<path d="M401.5 431.2L403.2 434.1L399.8 434.1Z" fill="#9c0f33"/>
<path d="M407.5 431.2L409.2 434.1L405.8 434.1Z" fill="#9c0f33"/>
<path d="M404.5 431.2L406.2 434.1L402.8 434.1Z" fill="#9c0f33"/>
<path d="M400.5 432.75L402.2 435.65L398.8 435.65Z" fill="#9c0f33"/>
<path d="M408.5 432.75L410.2 435.65L406.8 435.65Z" fill="#9c0f33"/>
<path d="M404.5 449.57L406.2 452.47L402.8 452.47Z" fill="#9c0f33"/>
<path d="M404.5 427.5V442.5M401.9 427.5H407.1M401.9 442.5H407.1M399.9 432.5H409.1" stroke="#cf1b45" class="eb"/>
<path d="M426.5 446.25L428.2 449.15L424.8 449.15Z" fill="#1b3a63"/>
<path d="M429.5 457.43L431.2 460.33L427.8 460.33Z" fill="#1b3a63"/>
<path d="M423.5 459.32L425.2 462.22L421.8 462.22Z" fill="#1b3a63"/>
<path d="M426.5 469.17L428.2 472.07L424.8 472.07Z" fill="#1b3a63"/>
<path d="M426.5 447.5V468.5M423.9 447.5H429.1M423.9 468.5H429.1M421.9 459.5H431.1" stroke="#33628f" class="eb"/>
<path d="M436.5 409.06L438.2 411.96L434.8 411.96Z" fill="#9c0f33"/>
<path d="M442.5 409.06L444.2 411.96L440.8 411.96Z" fill="#9c0f33"/>
<path d="M442.5 435.18L444.2 438.08L440.8 438.08Z" fill="#9c0f33"/>
<path d="M436.5 437.73L438.2 440.63L434.8 440.63Z" fill="#9c0f33"/>
<path d="M439.5 449.57L441.2 452.47L437.8 452.47Z" fill="#9c0f33"/>
<path d="M439.5 411.5V447.5M436.9 411.5H442.1M436.9 447.5H442.1M434.9 429.5H444.1" stroke="#cf1b45" class="eb"/>
<path d="M390.5 421.5H406.2" class="sb"/>
<circle cx="396.65" cy="417.1" r="1.05" fill="#1a1a1a"/>
<circle cx="400.05" cy="417.1" r="1.05" fill="#1a1a1a"/>
<path d="M424.1 404.5H439.8" class="sb"/>
<circle cx="431.95" cy="400.6" r="1.05" fill="#1a1a1a"/>
<text x="67.5" y="528.7" class="lt">H</text>
<text x="146.8" y="543.6" class="ti" text-anchor="middle"><tspan>Mac1</tspan><tspan class="sup" dx="0.3" dy="-3.3">+</tspan><tspan dy="3.3">​</tspan><tspan>Gr1</tspan><tspan class="sup" dx="0.3" dy="-3.3">−</tspan><tspan dy="3.3">​</tspan></text>
<text transform="translate(88.5 601.5) rotate(-90) scale(0.695 1)" class="yl" text-anchor="middle">Test/competitor (Log<tspan class="sub" dy="1.6">2</tspan><tspan dy="-1.6">)</tspan></text>
<path d="M113.4 550.08V652.71H180.5" class="ax"/>
<path d="M110.1 553.08H113.4M110.1 575.22H113.4M110.1 597.36H113.4M110.1 619.5H113.4M110.1 641.64H113.4M128.9 652.71V656.01M164.3 652.71V656.01" class="tk"/>
<text x="106.7" y="556.08" class="yt" text-anchor="end">6</text>
<text x="106.7" y="578.22" class="yt" text-anchor="end">4</text>
<text x="106.7" y="600.36" class="yt" text-anchor="end">2</text>
<text x="106.7" y="622.5" class="yt" text-anchor="end">0</text>
<text x="106.7" y="644.64" class="yt" text-anchor="end">−2</text>
<text x="102.7" y="666.71" class="xt" textLength="15.6" lengthAdjust="spacingAndGlyphs">Rec.</text>
<text x="122.2" y="666.71" class="xt" textLength="13" lengthAdjust="spacingAndGlyphs">WT</text>
<text x="146" y="666.71" class="xt" textLength="35" lengthAdjust="spacingAndGlyphs">R188Q/+</text>
<path d="M116.15 619.5H181.3" class="zl"/>
<path d="M119.5 610.79L121.2 613.69L117.8 613.69Z" fill="#1b3a63"/>
<path d="M122.5 610.79L124.2 613.69L120.8 613.69Z" fill="#1b3a63"/>
<path d="M125.5 610.79L127.2 613.69L123.8 613.69Z" fill="#1b3a63"/>
<path d="M122.5 612.78L124.2 615.68L120.8 615.68Z" fill="#1b3a63"/>
<path d="M119.5 615.66L121.2 618.56L117.8 618.56Z" fill="#1b3a63"/>
<path d="M125.5 617.76L127.2 620.66L123.8 620.66Z" fill="#1b3a63"/>
<path d="M122.5 619.97L124.2 622.87L120.8 622.87Z" fill="#1b3a63"/>
<path d="M122.5 622.63L124.2 625.53L120.8 625.53Z" fill="#1b3a63"/>
<path d="M122.5 626.51L124.2 629.41L120.8 629.41Z" fill="#1b3a63"/>
<path d="M119.5 627.83L121.2 630.73L117.8 630.73Z" fill="#1b3a63"/>
<path d="M125.5 627.83L127.2 630.73L123.8 630.73Z" fill="#1b3a63"/>
<path d="M122.5 612.5V627.5M119.9 612.5H125.1M119.9 627.5H125.1M117.9 618.5H127.1" stroke="#33628f" class="eb"/>
<path d="M138.5 593.18L140.2 596.08L136.8 596.08Z" fill="#9c0f33"/>
<path d="M135.5 594.51L137.2 597.41L133.8 597.41Z" fill="#9c0f33"/>
<path d="M133.5 595.84L135.2 598.74L131.8 598.74Z" fill="#9c0f33"/>
<path d="M132.5 599.72L134.2 602.62L130.8 602.62Z" fill="#9c0f33"/>
<path d="M138.5 599.72L140.2 602.62L136.8 602.62Z" fill="#9c0f33"/>
<path d="M135.5 601.04L137.2 603.94L133.8 603.94Z" fill="#9c0f33"/>
<path d="M135.5 607.58L137.2 610.48L133.8 610.48Z" fill="#9c0f33"/>
<path d="M135.5 614.11L137.2 617.01L133.8 617.01Z" fill="#9c0f33"/>
<path d="M135.5 595.5V609.5M132.9 595.5H138.1M132.9 609.5H138.1M130.9 602.5H140.1" stroke="#cf1b45" class="eb"/>
<path d="M157.5 615.44L159.2 618.34L155.8 618.34Z" fill="#1b3a63"/>
<path d="M154.5 619.97L156.2 622.87L152.8 622.87Z" fill="#1b3a63"/>
<path d="M157.5 620.64L159.2 623.54L155.8 623.54Z" fill="#1b3a63"/>
<path d="M154.5 623.29L156.2 626.19L152.8 626.19Z" fill="#1b3a63"/>
<path d="M160.5 623.29L162.2 626.19L158.8 626.19Z" fill="#1b3a63"/>
<path d="M157.5 617.5V624.5M154.9 617.5H160.1M154.9 624.5H160.1M152.9 621.5H162.1" stroke="#33628f" class="eb"/>
<path d="M170.5 586.65L172.2 589.55L168.8 589.55Z" fill="#9c0f33"/>
<path d="M170.5 589.97L172.2 592.87L168.8 592.87Z" fill="#9c0f33"/>
<path d="M167.5 604.25L169.2 607.15L165.8 607.15Z" fill="#9c0f33"/>
<path d="M173.5 604.25L175.2 607.15L171.8 607.15Z" fill="#9c0f33"/>
<path d="M170.5 611.45L172.2 614.35L168.8 614.35Z" fill="#9c0f33"/>
<path d="M170.5 589.5V611.5M167.9 589.5H173.1M167.9 611.5H173.1M165.9 600.5H175.1" stroke="#cf1b45" class="eb"/>
<path d="M119.8 589.5H135.9" class="sb"/>
<circle cx="126.15" cy="585" r="1.05" fill="#1a1a1a"/>
<circle cx="129.55" cy="585" r="1.05" fill="#1a1a1a"/>
<path d="M154.8 577.5H170.5" class="sb"/>
<circle cx="160.95" cy="573.7" r="1.05" fill="#1a1a1a"/>
<circle cx="164.35" cy="573.7" r="1.05" fill="#1a1a1a"/>
<text x="199.8" y="528.7" class="lt">I</text>
<text x="283.8" y="543.6" class="ti" text-anchor="middle"><tspan>B220</tspan></text>
<text transform="translate(225.5 601.5) rotate(-90) scale(0.695 1)" class="yl" text-anchor="middle">Test/competitor (Log<tspan class="sub" dy="1.6">2</tspan><tspan dy="-1.6">)</tspan></text>
<path d="M250.4 550.08V652.71H317.5" class="ax"/>
<path d="M247.1 553.08H250.4M247.1 575.22H250.4M247.1 597.36H250.4M247.1 619.5H250.4M247.1 641.64H250.4M265.9 652.71V656.01M301.3 652.71V656.01" class="tk"/>
<text x="243.7" y="556.08" class="yt" text-anchor="end">6</text>
<text x="243.7" y="578.22" class="yt" text-anchor="end">4</text>
<text x="243.7" y="600.36" class="yt" text-anchor="end">2</text>
<text x="243.7" y="622.5" class="yt" text-anchor="end">0</text>
<text x="243.7" y="644.64" class="yt" text-anchor="end">−2</text>
<text x="239.7" y="666.71" class="xt" textLength="15.6" lengthAdjust="spacingAndGlyphs">Rec.</text>
<text x="259.2" y="666.71" class="xt" textLength="13" lengthAdjust="spacingAndGlyphs">WT</text>
<text x="283" y="666.71" class="xt" textLength="35" lengthAdjust="spacingAndGlyphs">R188Q/+</text>
<path d="M253.15 619.5H318.3" class="zl"/>
<path d="M256.5 612.78L258.2 615.68L254.8 615.68Z" fill="#1b3a63"/>
<path d="M262.5 612.78L264.2 615.68L260.8 615.68Z" fill="#1b3a63"/>
<path d="M259.5 614.77L261.2 617.67L257.8 617.67Z" fill="#1b3a63"/>
<path d="M256.5 616.1L258.2 619L254.8 619Z" fill="#1b3a63"/>
<path d="M259.5 617.76L261.2 620.66L257.8 620.66Z" fill="#1b3a63"/>
<path d="M262.5 629.83L264.2 632.73L260.8 632.73Z" fill="#1b3a63"/>
<path d="M256.5 631.04L258.2 633.94L254.8 633.94Z" fill="#1b3a63"/>
<path d="M256.5 632.37L258.2 635.27L254.8 635.27Z" fill="#1b3a63"/>
<path d="M262.5 632.37L264.2 635.27L260.8 635.27Z" fill="#1b3a63"/>
<path d="M259.5 631.6L261.2 634.5L257.8 634.5Z" fill="#1b3a63"/>
<path d="M259.5 616.5V632.5M256.9 616.5H262.1M256.9 632.5H262.1M254.9 625.5H264.1" stroke="#33628f" class="eb"/>
<path d="M272.5 584L274.2 586.9L270.8 586.9Z" fill="#9c0f33"/>
<path d="M269.5 588.65L271.2 591.55L267.8 591.55Z" fill="#9c0f33"/>
<path d="M275.5 588.65L277.2 591.55L273.8 591.55Z" fill="#9c0f33"/>
<path d="M275.5 597.06L277.2 599.96L273.8 599.96Z" fill="#9c0f33"/>
<path d="M269.5 597.72L271.2 600.62L267.8 600.62Z" fill="#9c0f33"/>
<path d="M272.5 601.71L274.2 604.61L270.8 604.61Z" fill="#9c0f33"/>
<path d="M272.5 610.12L274.2 613.02L270.8 613.02Z" fill="#9c0f33"/>
<path d="M272.5 617.76L274.2 620.66L270.8 620.66Z" fill="#9c0f33"/>
<path d="M272.5 587.5V611.5M269.9 587.5H275.1M269.9 611.5H275.1M267.9 599.5H277.1" stroke="#cf1b45" class="eb"/>
<path d="M294.5 618.65L296.2 621.55L292.8 621.55Z" fill="#1b3a63"/>
<path d="M291.5 623.29L293.2 626.19L289.8 626.19Z" fill="#1b3a63"/>
<path d="M297.5 623.29L299.2 626.19L295.8 626.19Z" fill="#1b3a63"/>
<path d="M294.5 629.16L296.2 632.06L292.8 632.06Z" fill="#1b3a63"/>
<path d="M294.5 621.5V630.5M291.9 621.5H297.1M291.9 630.5H297.1M289.9 625.5H299.1" stroke="#33628f" class="eb"/>
<path d="M307.5 583.44L309.2 586.34L305.8 586.34Z" fill="#9c0f33"/>
<path d="M307.5 593.85L309.2 596.75L305.8 596.75Z" fill="#9c0f33"/>
<path d="M307.5 601.71L309.2 604.61L305.8 604.61Z" fill="#9c0f33"/>
<path d="M310.5 606.91L312.2 609.81L308.8 609.81Z" fill="#9c0f33"/>
<path d="M304.5 609.57L306.2 612.47L302.8 612.47Z" fill="#9c0f33"/>
<path d="M307.5 589.5V611.5M304.9 589.5H310.1M304.9 611.5H310.1M302.9 600.5H312.1" stroke="#cf1b45" class="eb"/>
<path d="M256.3 578.5H272" class="sb"/>
<circle cx="262.45" cy="574.2" r="1.05" fill="#1a1a1a"/>
<circle cx="265.85" cy="574.2" r="1.05" fill="#1a1a1a"/>
<path d="M293.8 575.5H309.5" class="sb"/>
<circle cx="299.95" cy="571.3" r="1.05" fill="#1a1a1a"/>
<circle cx="303.35" cy="571.3" r="1.05" fill="#1a1a1a"/>
<text x="335.6" y="528.7" class="lt">J</text>
<text x="415.9" y="543.6" class="ti" text-anchor="middle"><tspan>CD3</tspan></text>
<text transform="translate(357.6 601.5) rotate(-90) scale(0.695 1)" class="yl" text-anchor="middle">Test/competitor (Log<tspan class="sub" dy="1.6">2</tspan><tspan dy="-1.6">)</tspan></text>
<path d="M382.5 550.08V652.71H449.6" class="ax"/>
<path d="M379.2 553.08H382.5M379.2 575.22H382.5M379.2 597.36H382.5M379.2 619.5H382.5M379.2 641.64H382.5M398 652.71V656.01M433.4 652.71V656.01" class="tk"/>
<text x="375.8" y="556.08" class="yt" text-anchor="end">6</text>
<text x="375.8" y="578.22" class="yt" text-anchor="end">4</text>
<text x="375.8" y="600.36" class="yt" text-anchor="end">2</text>
<text x="375.8" y="622.5" class="yt" text-anchor="end">0</text>
<text x="375.8" y="644.64" class="yt" text-anchor="end">−2</text>
<text x="371.8" y="666.71" class="xt" textLength="15.6" lengthAdjust="spacingAndGlyphs">Rec.</text>
<text x="391.3" y="666.71" class="xt" textLength="13" lengthAdjust="spacingAndGlyphs">WT</text>
<text x="415.1" y="666.71" class="xt" textLength="35" lengthAdjust="spacingAndGlyphs">R188Q/+</text>
<path d="M385.25 619.5H450.4" class="zl"/>
<path d="M388.5 613.44L390.2 616.34L386.8 616.34Z" fill="#1b3a63"/>
<path d="M391.5 613.44L393.2 616.34L389.8 616.34Z" fill="#1b3a63"/>
<path d="M394.5 614.77L396.2 617.67L392.8 617.67Z" fill="#1b3a63"/>
<path d="M391.5 617.32L393.2 620.22L389.8 620.22Z" fill="#1b3a63"/>
<path d="M391.5 619.97L393.2 622.87L389.8 622.87Z" fill="#1b3a63"/>
<path d="M391.5 625.84L393.2 628.74L389.8 628.74Z" fill="#1b3a63"/>
<path d="M388.5 626.95L390.2 629.85L386.8 629.85Z" fill="#1b3a63"/>
<path d="M394.5 626.95L396.2 629.85L392.8 629.85Z" fill="#1b3a63"/>
<path d="M388.5 629.49L390.2 632.39L386.8 632.39Z" fill="#1b3a63"/>
<path d="M391.5 615.5V628.5M388.9 615.5H394.1M388.9 628.5H394.1M386.9 621.5H396.1" stroke="#33628f" class="eb"/>
<path d="M404.5 594.51L406.2 597.41L402.8 597.41Z" fill="#9c0f33"/>
<path d="M401.5 597.06L403.2 599.96L399.8 599.96Z" fill="#9c0f33"/>
<path d="M407.5 597.06L409.2 599.96L405.8 599.96Z" fill="#9c0f33"/>
<path d="M401.5 602.37L403.2 605.27L399.8 605.27Z" fill="#9c0f33"/>
<path d="M407.5 602.37L409.2 605.27L405.8 605.27Z" fill="#9c0f33"/>
<path d="M404.5 610.12L406.2 613.02L402.8 613.02Z" fill="#9c0f33"/>
<path d="M404.5 612.78L406.2 615.68L402.8 615.68Z" fill="#9c0f33"/>
<path d="M404.5 617.76L406.2 620.66L402.8 620.66Z" fill="#9c0f33"/>
<path d="M404.5 596.5V612.5M401.9 596.5H407.1M401.9 612.5H407.1M399.9 604.5H409.1" stroke="#cf1b45" class="eb"/>
<path d="M423.5 616.1L425.2 619L421.8 619Z" fill="#1b3a63"/>
<path d="M429.5 616.1L431.2 619L427.8 619Z" fill="#1b3a63"/>
<path d="M426.5 618.65L428.2 621.55L424.8 621.55Z" fill="#1b3a63"/>
<path d="M426.5 621.97L428.2 624.87L424.8 624.87Z" fill="#1b3a63"/>
<path d="M426.5 625.18L428.2 628.08L424.8 628.08Z" fill="#1b3a63"/>
<path d="M426.5 617.5V625.5M423.9 617.5H429.1M423.9 625.5H429.1M421.9 621.5H431.1" stroke="#33628f" class="eb"/>
<path d="M439.5 596.39L441.2 599.29L437.8 599.29Z" fill="#9c0f33"/>
<path d="M439.5 601.71L441.2 604.61L437.8 604.61Z" fill="#9c0f33"/>
<path d="M442.5 604.92L444.2 607.82L440.8 607.82Z" fill="#9c0f33"/>
<path d="M436.5 608.9L438.2 611.8L434.8 611.8Z" fill="#9c0f33"/>
<path d="M439.5 612.78L441.2 615.68L437.8 615.68Z" fill="#9c0f33"/>
<path d="M439.5 598.5V614.5M436.9 598.5H442.1M436.9 614.5H442.1M434.9 606.5H444.1" stroke="#cf1b45" class="eb"/>
<path d="M390.5 589.5H406.2" class="sb"/>
<circle cx="396.65" cy="585.7" r="1.05" fill="#1a1a1a"/>
<circle cx="400.05" cy="585.7" r="1.05" fill="#1a1a1a"/>
<path d="M425.2 588.5H440.6" class="sb"/>
<circle cx="431.2" cy="584.4" r="1.05" fill="#1a1a1a"/>
<circle cx="434.6" cy="584.4" r="1.05" fill="#1a1a1a"/>
<text x="208" y="683" class="lg">Donor BM</text>
<path d="M210.4 691.68L212.3 694.88L208.5 694.88Z" fill="#1b3a63"/>
<text x="215.5" y="695.5" class="lg">WT/WT</text>
<path d="M255.9 691.68L257.8 694.88L254 694.88Z" fill="#9c0f33"/>
<text x="261" y="695.5" class="lg">R188Q/+ /WT</text>
</g>
</svg></div>
</body></html>
